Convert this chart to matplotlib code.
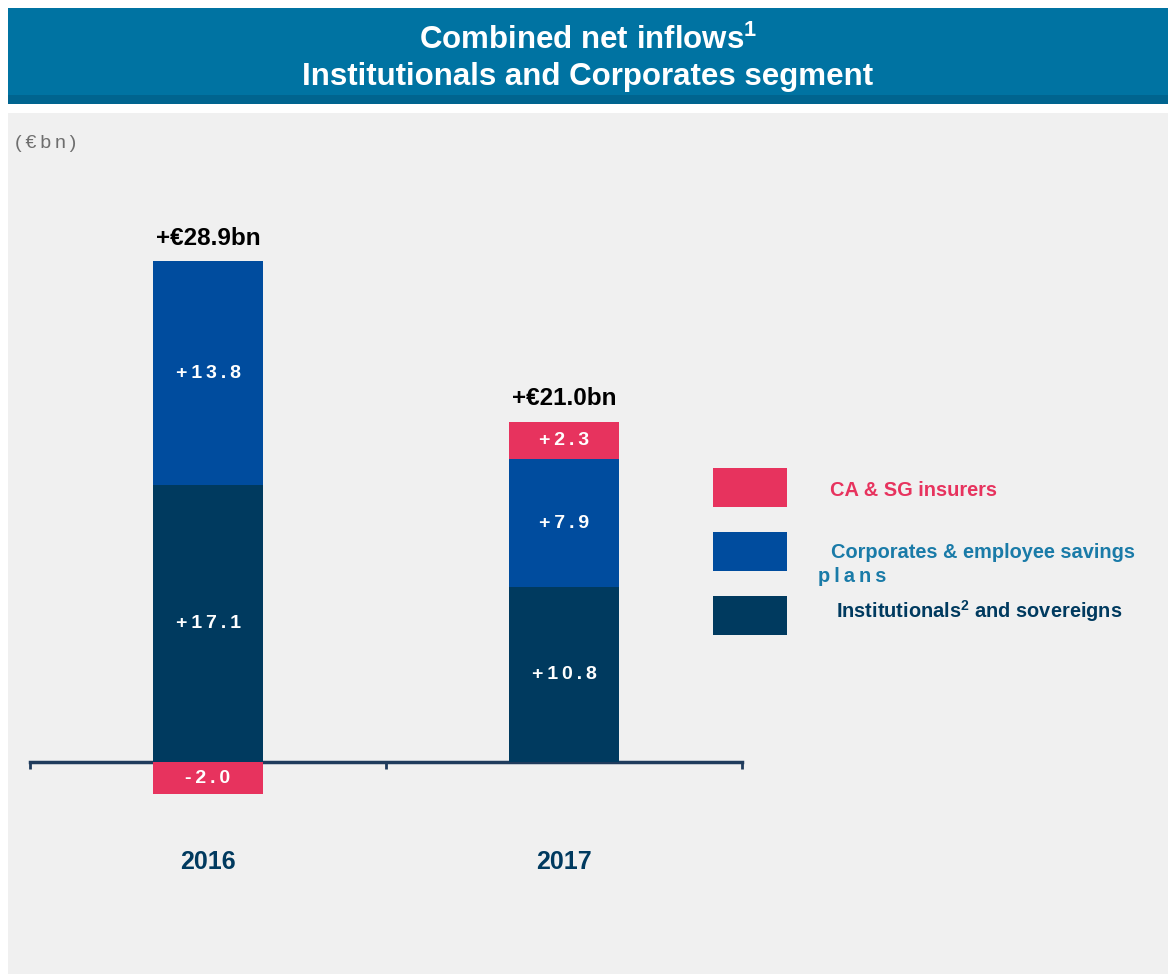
import numpy as np
import matplotlib
matplotlib.use("Agg")
import matplotlib.pyplot as plt
from matplotlib.patches import Rectangle

plt.rcParams["mathtext.fontset"] = "custom"
plt.rcParams["mathtext.rm"] = "Liberation Sans:bold"
plt.rcParams["mathtext.bf"] = "Liberation Sans:bold"
plt.rcParams["mathtext.it"] = "Liberation Sans:bold:italic"

# --- data
years = ["2016", "2017"]
insurers = [-2.0, 2.3]
corporates = [13.8, 7.9]
institutionals = [17.1, 10.8]
series_names = ["CA & SG insurers", "Corporates & employee savings\nplans",
                "Institutionals$^{\\it 2}$ and sovereigns"]

c_pink = "#E7335E"
c_blue = "#004C9E"
c_navy = "#003A5F"
c_banner = "#0073A2"
c_bg = "#F0F0F0"

W, H = 1168, 974
fig = plt.figure(figsize=(W / 100, H / 100), dpi=100)
fig.patch.set_facecolor("white")

def px(x, y):
    # pixel coords (top-left origin) -> figure fraction
    return x / W, 1 - y / H

# background panels
fig.patches.append(Rectangle(px(8, 974), 1, (974 - 113) / H, transform=fig.transFigure,
                             facecolor=c_bg, edgecolor="none", zorder=0))
fig.patches.append(Rectangle(px(8, 104), 1, 96 / H, transform=fig.transFigure,
                             facecolor=c_banner, edgecolor="none", zorder=0))
fig.patches.append(Rectangle(px(8, 104), 1, 9 / H, transform=fig.transFigure,
                             facecolor="#00648F", edgecolor="none", zorder=0))

fig.text(*px(588, 40), "Combined net inflows$^1$", ha="center", va="center",
         color="white", fontsize=22.5, fontweight="bold", family="Liberation Sans")
fig.text(*px(588, 77), "Institutionals and Corporates segment", ha="center", va="center",
         color="white", fontsize=22.5, fontweight="bold", family="Liberation Sans")
fig.text(*px(15, 143), "(\u2009€\u2009b\u2009n\u2009)", ha="left", va="center", color="#6E6E6E",
         fontsize=14, family=["Liberation Sans", "DejaVu Sans"])

# axes: baseline at y=762 px, 16.2 px per unit
ymin, ymax = -10, 33
ppu = 16.2
ax_bottom = 762 + (-ymin) * ppu
ax_top = 762 - ymax * ppu
ax = fig.add_axes([30 / W, 1 - ax_bottom / H, 712 / W, (ax_bottom - ax_top) / H])
ax.set_zorder(3)
ax.set_facecolor("none")
ax.set_xlim(0, 2)
ax.set_ylim(ymin, ymax)

x = np.array([0.5, 1.5])
bw = 0.31
ins = np.array(insurers)
corp = np.array(corporates)
inst = np.array(institutionals)

ax.bar(x, inst, bw, color=c_navy, zorder=3)
ax.bar(x, corp, bw, bottom=inst, color=c_blue, zorder=3)
ins_bottom = np.where(ins > 0, inst + corp, 0)
ax.bar(x, ins, bw, bottom=ins_bottom, color=c_pink, zorder=3)

def spaced(v):
    s = f"{v:+.1f}"
    return "\u2009".join(s)

lab_kw = dict(ha="center", va="center", color="white", fontsize=14,
              fontweight="bold", family=["Liberation Sans", "DejaVu Sans"], zorder=4)
for i in range(2):
    ax.text(x[i], inst[i] / 2, spaced(inst[i]), **lab_kw)
    ax.text(x[i], inst[i] + corp[i] / 2, spaced(corp[i]), **lab_kw)
    ax.text(x[i], ins_bottom[i] + ins[i] / 2, spaced(ins[i]), **lab_kw)
    top = inst[i] + corp[i] + max(ins[i], 0)
    total = inst[i] + corp[i] + ins[i]
    ax.text(x[i], top + 0.7, f"+€{total:.1f}bn", ha="center", va="bottom",
            color="black", fontsize=17.5, fontweight="bold", family="Liberation Sans")
    ax.text(x[i], -6.2, years[i], ha="center", va="center", color=c_navy,
            fontsize=18, fontweight="bold", family="Liberation Sans")

for s in ["top", "left", "right"]:
    ax.spines[s].set_visible(False)
ax.spines["bottom"].set_position(("data", 0))
ax.spines["bottom"].set_color("#1F3B5C")
ax.spines["bottom"].set_linewidth(2.5)
ax.spines["bottom"].set_zorder(2)
ax.set_yticks([])
ax.set_xticks([0, 1, 2])
ax.set_xticklabels([])
ax.tick_params(axis="x", direction="out", length=5, width=2, color="#1F3B5C")

# legend
leg_colors = [c_pink, c_blue, c_navy]
leg_y = [468, 532, 596]
for c, yy in zip(leg_colors, leg_y):
    fig.patches.append(Rectangle(px(713, yy + 39), 74 / W, 39 / H, transform=fig.transFigure,
                                 facecolor=c, edgecolor="none", zorder=2))
leg_kw = dict(ha="left", va="center", fontsize=14.4, fontweight="bold",
              family="Liberation Sans")
fig.text(*px(830, 491), series_names[0], color=c_pink, **leg_kw)
fig.text(*px(831, 552), series_names[1].split("\n")[0], color="#1A7BA8", **leg_kw)
fig.text(*px(818, 577), "\u2009".join(series_names[1].split("\n")[1]),
         color="#1A7BA8", **dict(leg_kw, family=["Liberation Sans", "DejaVu Sans"]))
fig.text(*px(836, 611), series_names[2], color=c_navy, **leg_kw)

fig.savefig("out.png", dpi=100, facecolor=fig.get_facecolor())
